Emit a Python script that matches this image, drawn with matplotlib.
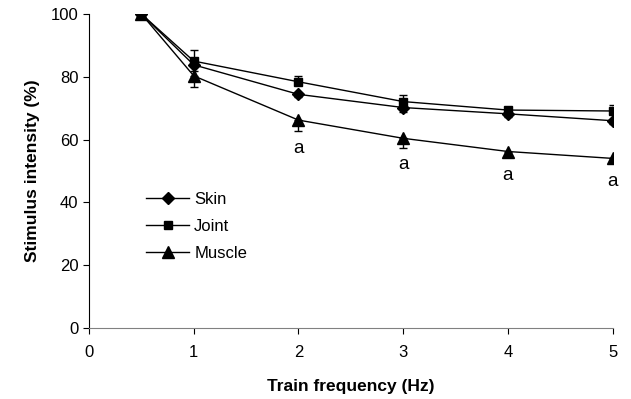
import numpy as np
import matplotlib
matplotlib.use("Agg")
import matplotlib.pyplot as plt
from matplotlib.lines import Line2D

plt.rcParams['font.family'] = ['Liberation Sans', 'DejaVu Sans']

# data
freq = [0.5, 1, 2, 3, 4, 5]
skin = [100, 83.8, 74.4, 70.2, 68.2, 66.0]
joint = [100, 85.0, 78.4, 72.1, 69.4, 69.1]
muscle = [100, 80.3, 66.2, 60.4, 56.2, 54.0]
skin_err = [0.5, 2.0, 1.0, 1.5, 1.0, 1.0]
joint_err = [0.5, 3.5, 2.0, 2.0, 1.0, 2.0]
muscle_err = [0.5, 3.5, 3.5, 3.0, 1.0, 1.0]
sig_x = [2, 3, 4, 5]
sig_y = [57, 52, 48.7, 46.6]

fig = plt.figure(figsize=(6.31, 3.99), dpi=100)
ax = fig.add_axes([0.141, 0.178, 0.83, 0.787])

zeros = [0] * len(freq)
# one-sided error bars like the original
ax.errorbar(freq, joint, yerr=[zeros, joint_err], color='black', lw=1,
            marker='s', ms=6, capsize=3, elinewidth=1, zorder=3)
ax.errorbar(freq, skin, yerr=[skin_err, zeros], color='black', lw=1,
            marker='D', ms=6, capsize=3, elinewidth=1, zorder=3)
ax.errorbar(freq, muscle, yerr=[muscle_err, zeros], color='black', lw=1,
            marker='^', ms=8, capsize=3, elinewidth=1, zorder=3)

for x, y in zip(sig_x, sig_y):
    ax.text(x, y, 'a', ha='center', va='center', fontsize=13.5)

ax.set_xlim(0, 5)
ax.set_ylim(0, 100)
ax.set_xticks(range(6))
ax.set_yticks(range(0, 101, 20))
ax.tick_params(direction='out', length=4, labelsize=12)
ax.tick_params(axis='x', pad=8)
ax.spines['top'].set_visible(False)
ax.spines['right'].set_visible(False)
ax.spines['bottom'].set_color('#808080')

ax.set_xlabel('Train frequency (Hz)', fontsize=12.5, fontweight='bold', labelpad=14)
ax.set_ylabel('Stimulus intensity (%)', fontsize=12.5, fontweight='bold', labelpad=8)

# legend with plain line+marker handles
handles = [Line2D([], [], color='black', lw=1, marker='D', ms=6),
           Line2D([], [], color='black', lw=1, marker='s', ms=6),
           Line2D([], [], color='black', lw=1, marker='^', ms=8)]
ax.legend(handles, ['Skin', 'Joint', 'Muscle'],
          loc='upper left', bbox_to_anchor=(0.08, 0.48), frameon=False,
          fontsize=12, handlelength=2.6, handletextpad=0.3, labelspacing=0.7)

fig.savefig('out.png', dpi=100)
